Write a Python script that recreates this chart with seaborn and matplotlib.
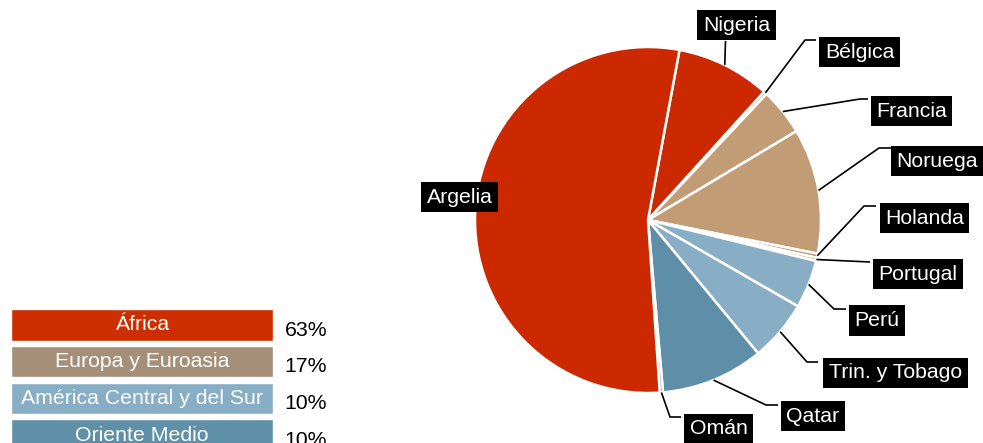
import numpy as np
import pandas as pd
import matplotlib
matplotlib.use("Agg")
import matplotlib.pyplot as plt
import seaborn as sns

# ---- data ----
countries = ["Nigeria", "Bélgica", "Francia", "Noruega", "Holanda", "Portugal",
             "Perú", "Trin. y Tobago", "Qatar", "Omán", "Argelia"]
shares = [8.8, 0.3, 4.4, 11.7, 0.4, 0.3, 4.5, 5.7, 9.6, 0.3, 54.0]
country_region = ["África", "Europa y Euroasia", "Europa y Euroasia", "Europa y Euroasia",
                  "Europa y Euroasia", "Europa y Euroasia", "América Central y del Sur",
                  "América Central y del Sur", "Oriente Medio", "Oriente Medio", "África"]
regions = ["África", "Europa y Euroasia", "América Central y del Sur", "Oriente Medio"]
region_pct = ["63%", "17%", "10%", "10%"]

# ---- styles / layout ----
slice_colors = {"África": "#CC2900", "Europa y Euroasia": "#C19C74",
                "América Central y del Sur": "#87AEC5", "Oriente Medio": "#5F8FA8"}
legend_colors = {"África": "#CC2E00", "Europa y Euroasia": "#A68F78",
                 "América Central y del Sur": "#87AEC5", "Oriente Medio": "#6090A8"}
W, H = 983, 443
FS = 15.3
# label box centres and leader elbows in pixel coords (y from top)
label_pos = {"Nigeria": (736.5, 25), "Bélgica": (859.5, 52), "Francia": (911.5, 111),
             "Noruega": (937, 161), "Holanda": (924.5, 218), "Portugal": (918, 274),
             "Perú": (877, 320.5), "Trin. y Tobago": (895.5, 373), "Qatar": (813, 416),
             "Omán": (718.5, 429), "Argelia": (459.5, 197)}
elbows = {"Nigeria": [(725.5, 41)], "Bélgica": [(805, 40), (816, 40)],
          "Francia": [(860, 99), (868, 99)], "Noruega": [(879, 148), (891, 148)],
          "Holanda": [(864, 206), (876, 206)], "Portugal": [(870, 262)],
          "Perú": [(834, 309), (846, 309)], "Trin. y Tobago": [(807, 362), (818, 362)],
          "Qatar": [(766, 405), (778, 405)], "Omán": [(670, 417), (681, 417)],
          "Argelia": []}

sns.set_style("white")
plt.rcParams["font.family"] = ["Liberation Sans", "DejaVu Sans"]

fig = plt.figure(figsize=(W / 100, H / 100), dpi=100)
ax = fig.add_axes([0, 0, 1, 1])

center = (648, H - 220)
radius = 173
colors = [slice_colors[r] for r in country_region]
wedges, _ = ax.pie(shares, colors=colors, startangle=79.5, counterclock=False,
                   center=center, radius=radius, frame=True,
                   wedgeprops=dict(edgecolor="white", linewidth=1.8))
ax.set_xlim(0, W)
ax.set_ylim(0, H)
ax.set_aspect("equal")
ax.axis("off")

for w, name in zip(wedges, countries):
    tx, ty = label_pos[name]
    pts = elbows[name]
    if pts:
        mid = np.deg2rad((w.theta1 + w.theta2) / 2)
        ax_pt = (center[0] + radius * np.cos(mid), center[1] + radius * np.sin(mid))
        xs = [ax_pt[0]] + [p[0] for p in pts]
        ys = [ax_pt[1]] + [H - p[1] for p in pts]
        ax.plot(xs, ys, color="black", lw=1.2, zorder=3, solid_capstyle="butt")
    ax.text(tx, H - ty, name, ha="center", va="center", color="white", fontsize=FS,
            zorder=5, bbox=dict(boxstyle="square,pad=0.26", fc="black", ec="none"))

# ---- region legend (seaborn bars) ----
pitch = 36.7
top = 325 - pitch / 2
lax = fig.add_axes([11 / W, (H - (top + 4 * pitch)) / H, 262 / W, 4 * pitch / H])
df = pd.DataFrame({"region": regions, "v": [1] * len(regions)})
sns.barplot(data=df, x="v", y="region", hue="region", palette=legend_colors,
            width=0.86, legend=False, ax=lax, saturation=1)
lax.set_xlim(0, 1)
lax.set_ylim(3.5, -0.5)
lax.axis("off")
for i, (r, p) in enumerate(zip(regions, region_pct)):
    lax.text(0.5, i, r, ha="center", va="center", color="white", fontsize=FS)
    lax.text(1.045, i + 0.14, p, ha="left", va="center", color="black", fontsize=FS,
             clip_on=False)

fig.savefig("out.png", dpi=100)
